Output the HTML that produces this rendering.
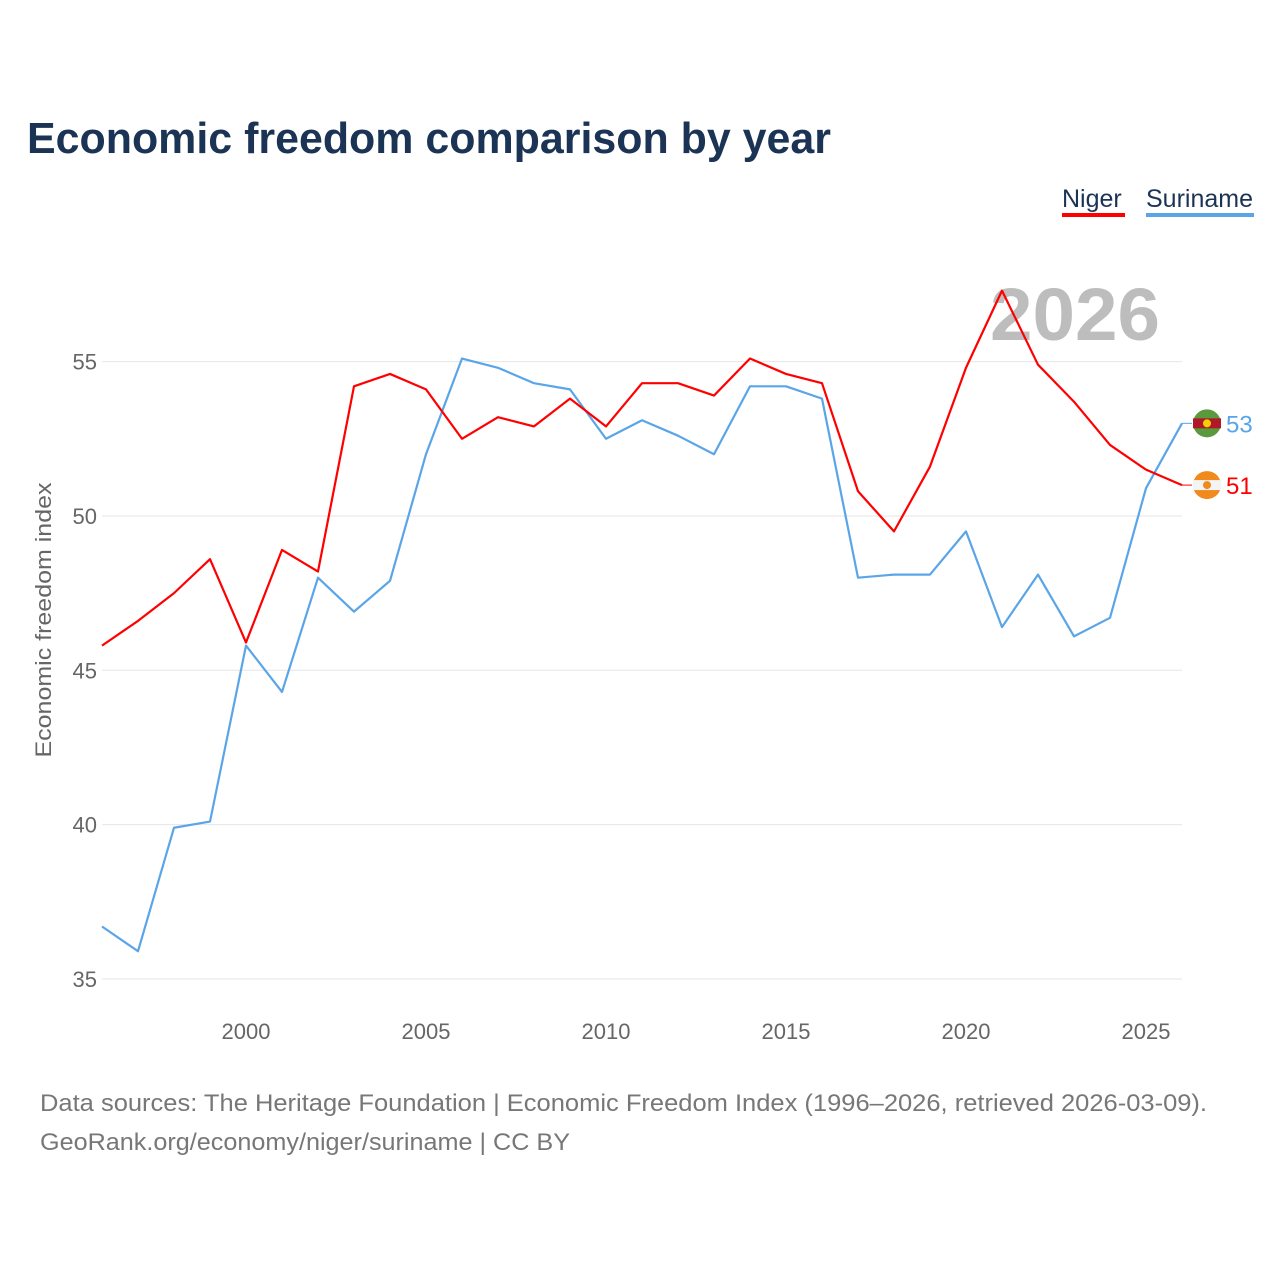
<!DOCTYPE html>
<html><head><meta charset="utf-8"><style>
body{margin:0;background:#fff;font-family:"Liberation Sans",sans-serif;}
svg text{font-family:"Liberation Sans",sans-serif;}
</style></head><body>
<svg id="chart" width="1280" height="1280" xmlns="http://www.w3.org/2000/svg">
<rect width="1280" height="1280" fill="#fff"/>
<text x="27" y="153" font-size="44" font-weight="bold" fill="#1b3354" textLength="804" lengthAdjust="spacingAndGlyphs">Economic freedom comparison by year</text>
<g><text x="1062" y="207" font-size="25" fill="#1b3354">Niger</text><rect x="1062" y="213" width="63" height="4" fill="#ff0000"/></g>
<g><text x="1146" y="207" font-size="25" fill="#1b3354">Suriname</text><rect x="1146" y="213" width="108" height="4" fill="#5aa5e8"/></g>
<text x="990" y="340" font-size="74" font-weight="bold" fill="#bdbdbd" textLength="170" lengthAdjust="spacingAndGlyphs">2026</text>
<text transform="translate(51,620) rotate(-90)" font-size="22" fill="#666" text-anchor="middle" textLength="275" lengthAdjust="spacingAndGlyphs">Economic freedom index</text>
<g id="grid"></g><g id="xt"></g><g id="lines"></g><g id="ends"></g>
<text x="40" y="1111" font-size="24" fill="#777" textLength="1167" lengthAdjust="spacingAndGlyphs">Data sources: The Heritage Foundation | Economic Freedom Index (1996–2026, retrieved 2026-03-09).</text>
<text x="40" y="1150" font-size="24" fill="#777" textLength="530" lengthAdjust="spacingAndGlyphs">GeoRank.org/economy/niger/suriname | CC BY</text>
</svg>
<script>
const years=[1996,1997,1998,1999,2000,2001,2002,2003,2004,2005,2006,2007,2008,2009,2010,2011,2012,2013,2014,2015,2016,2017,2018,2019,2020,2021,2022,2023,2024,2025,2026];
const niger=[45.8,46.6,47.5,48.6,45.9,48.9,48.2,54.2,54.6,54.1,52.5,53.2,52.9,53.8,52.9,54.3,54.3,53.9,55.1,54.6,54.3,50.8,49.5,51.6,54.8,57.3,54.9,53.7,52.3,51.5,51.0];
const suriname=[36.7,35.9,39.9,40.1,45.8,44.3,48.0,46.9,47.9,52.0,55.1,54.8,54.3,54.1,52.5,53.1,52.6,52.0,54.2,54.2,53.8,48.0,48.1,48.1,49.5,46.4,48.1,46.1,46.7,50.9,53.0];
const yTicks=[35,40,45,50,55];
const xTicks=[2000,2005,2010,2015,2020,2025];
const NS="http://www.w3.org/2000/svg";
const x=v=>102+(v-1996)*36;
const y=v=>979-(v-35)*30.87;
function mk(t,a,p){const e=document.createElementNS(NS,t);for(const k in a)e.setAttribute(k,a[k]);p.appendChild(e);return e;}
const grid=document.getElementById('grid');
yTicks.forEach(t=>{
 const l=mk('line',{x1:102,x2:1182,y1:y(t),y2:y(t),stroke:'#e6e6e6','stroke-width':1},grid);
 
 
 const tx=mk('text',{x:97,y:y(t)+8,'font-size':22,fill:'#666','text-anchor':'end'},grid);tx.textContent=t;
 
 
});
const xt=document.getElementById('xt');
xTicks.forEach(t=>{
 const tx=mk('text',{x:x(t),y:1039,'font-size':22,fill:'#666','text-anchor':'middle'},xt);tx.textContent=t;
 
 
});
const lines=document.getElementById('lines');
function line(d,c,n){
 const p=mk('polyline',{points:d.map((v,i)=>x(years[i])+','+y(v)).join(' '),fill:'none',stroke:c,'stroke-width':2.2,'stroke-linejoin':'round'},lines);
 
 
}
line(suriname,'#5aa5e8','suriname-line');
line(niger,'#ff0000','niger-line');
const ends=document.getElementById('ends');
function end(d,c,n,flag){
 const v=d[d.length-1],yy=y(v);
 const g=mk('g',{},ends);
 
 
 mk('line',{x1:1182,x2:1192,y1:yy,y2:yy,stroke:c,'stroke-width':1},g);
 mk('circle',{cx:1207,cy:yy,r:14,fill:flag[0]},g);
 mk('rect',{x:1193,y:yy-5,width:28,height:10,fill:flag[1]},g);
 mk('circle',{cx:1207,cy:yy,r:4,fill:flag[2]},g);
 const t=mk('text',{x:1226,y:yy+9,'font-size':24,fill:c},g);t.textContent=Math.round(v);
}
end(suriname,'#5aa5e8','suriname-end-label',['#5a9a3c','#b0182a','#f5d000']);
end(niger,'#ff0000','niger-end-label',['#f08a1c','#f4f4f4','#f08a1c']);
</script>
</body></html>
